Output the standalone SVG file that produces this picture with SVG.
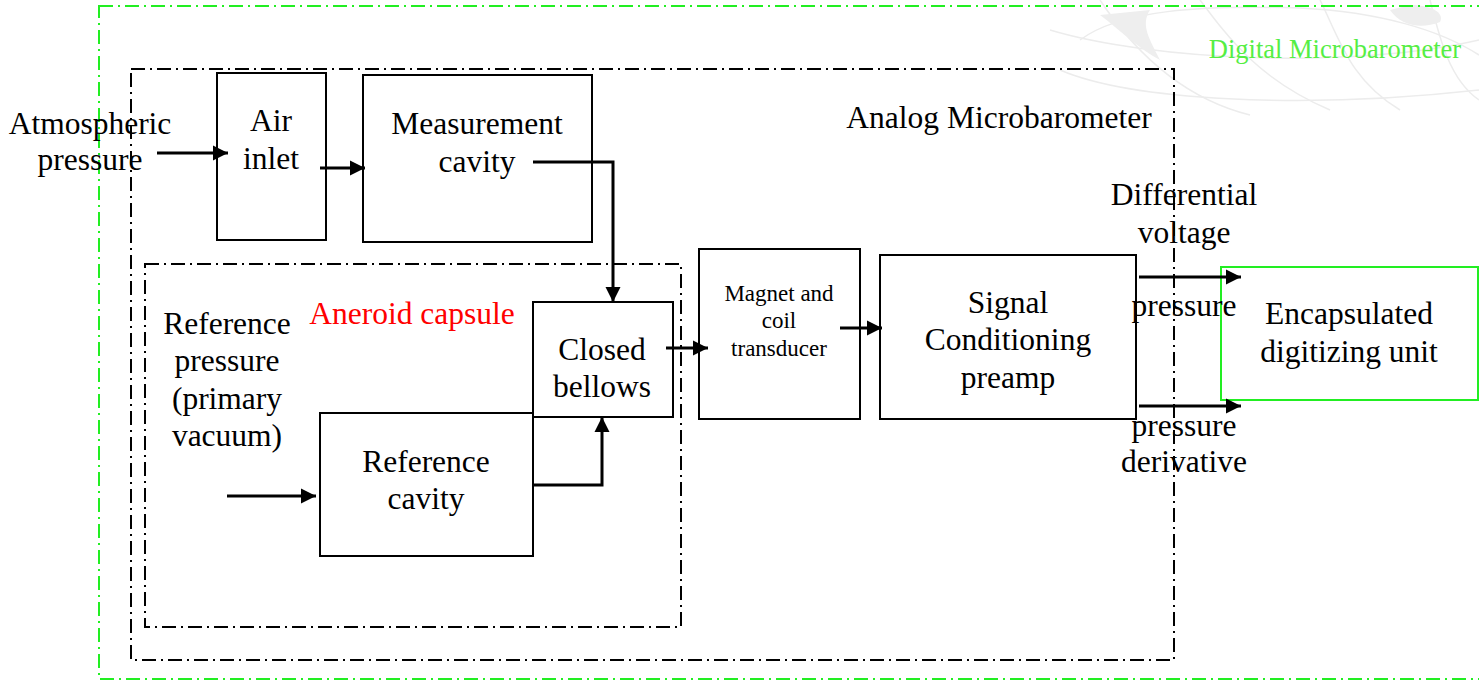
<svg xmlns="http://www.w3.org/2000/svg" width="1479" height="682" viewBox="0 0 1479 682">
<defs>
<style>
text{font-family:"Liberation Serif","Times New Roman",serif;font-size:31.5px;fill:#000;text-anchor:middle}
.box{fill:none;stroke:#000;stroke-width:2}
.dd{fill:none;stroke:#000;stroke-width:2;stroke-dasharray:14 5 2 5}
.gdd{fill:none;stroke:#22ee22;stroke-width:2;stroke-dasharray:14 5 2 5}
.arr{fill:none;stroke:#000;stroke-width:3;marker-end:url(#ah)}
.wm{fill:none;stroke:#ececec;stroke-width:1.5}
</style>
<marker id="ah" markerUnits="userSpaceOnUse" markerWidth="18" markerHeight="18" refX="15" refY="8" orient="auto">
<path d="M0,0.5 L15,8 L0,15.5 Z" fill="#000"/>
</marker>
</defs>
<rect width="1479" height="682" fill="#fff"/>
<g id="watermark">
<path d="M1080,40 C1120,10 1200,5 1300,8 C1380,12 1440,30 1479,55" class="wm"/>
<path d="M1060,70 C1130,100 1300,110 1479,90" class="wm"/>
<path d="M1100,0 C1140,60 1190,100 1250,115" class="wm"/>
<path d="M1200,0 C1230,40 1260,80 1330,110" class="wm"/>
<path d="M1320,0 C1340,40 1350,80 1400,110" class="wm"/>
<path d="M1430,0 C1440,40 1450,80 1479,100" class="wm"/>
<path d="M1050,30 C1150,60 1350,70 1479,40" class="wm"/>
<path d="M1100,15 C1120,30 1140,50 1160,60 C1150,40 1140,25 1150,10 Z" fill="#eeeeee"/>
<path d="M1390,10 C1400,25 1420,30 1440,22 C1445,12 1430,5 1410,5 Z" fill="#eeeeee"/>
</g>
<g id="digital-microbarometer">
<rect class="gdd" x="99" y="6" width="1400" height="673"/>
<text x="1335" y="58" style="font-size:26.5px;fill:#55ee44">Digital Microbarometer</text>
</g>
<g id="analog-microbarometer">
<rect class="dd" x="131" y="69" width="1043" height="591"/>
<text x="999" y="128">Analog Microbarometer</text>
</g>
<g id="aneroid-capsule">
<rect class="dd" x="145" y="264" width="536" height="363"/>
<text x="412" y="324" style="fill:#ff0000">Aneroid capsule</text>
</g>
<g id="atmospheric-pressure">
<text x="90" y="134">Atmospheric</text>
<text x="90" y="170">pressure</text>
</g>
<g id="air-inlet">
<rect class="box" x="217" y="73" width="109" height="167"/>
<text x="271" y="131">Air</text>
<text x="271" y="169">inlet</text>
</g>
<g id="measurement-cavity">
<rect class="box" x="363" y="75" width="229" height="167"/>
<text x="477" y="134">Measurement</text>
<text x="477" y="172">cavity</text>
</g>
<g id="reference-pressure">
<text x="227" y="334">Reference</text>
<text x="227" y="371">pressure</text>
<text x="227" y="409">(primary</text>
<text x="227" y="446">vacuum)</text>
</g>
<g id="reference-cavity">
<rect class="box" x="320" y="413" width="213" height="143"/>
<text x="426" y="472">Reference</text>
<text x="426" y="509">cavity</text>
</g>
<g id="closed-bellows">
<rect class="box" x="533" y="302" width="140" height="115"/>
<text x="602" y="360">Closed</text>
<text x="602" y="397">bellows</text>
</g>
<g id="magnet-coil">
<rect class="box" x="699" y="249" width="161" height="170"/>
<text x="779" y="301" style="font-size:23px">Magnet and</text>
<text x="779" y="328" style="font-size:23px">coil</text>
<text x="779" y="356" style="font-size:23px">transducer</text>
</g>
<g id="signal-conditioning">
<rect class="box" x="880" y="255" width="256" height="164"/>
<text x="1008" y="313">Signal</text>
<text x="1008" y="350">Conditioning</text>
<text x="1008" y="388">preamp</text>
</g>
<g id="digitizing-unit">
<rect x="1221" y="267" width="257" height="133" fill="none" stroke="#22ee22" stroke-width="2"/>
<text x="1349" y="324">Encapsulated</text>
<text x="1349" y="362">digitizing unit</text>
</g>
<g id="output-labels">
<text x="1184" y="205">Differential</text>
<text x="1184" y="243">voltage</text>
<text x="1184" y="316">pressure</text>
<text x="1184" y="436">pressure</text>
<text x="1184" y="472">derivative</text>
</g>
<g id="connectors">
<path class="arr" d="M157,153 H228"/>
<path class="arr" d="M320,168 H365"/>
<path class="arr" d="M533,162 H613 V302"/>
<path class="arr" d="M533,485 H602 V417"/>
<path class="arr" d="M227,496 H316"/>
<path class="arr" d="M666,348 H708"/>
<path class="arr" d="M840,328 H882"/>
<path class="arr" d="M1139,277 H1241"/>
<path class="arr" d="M1139,406 H1241"/>
</g>
</svg>
